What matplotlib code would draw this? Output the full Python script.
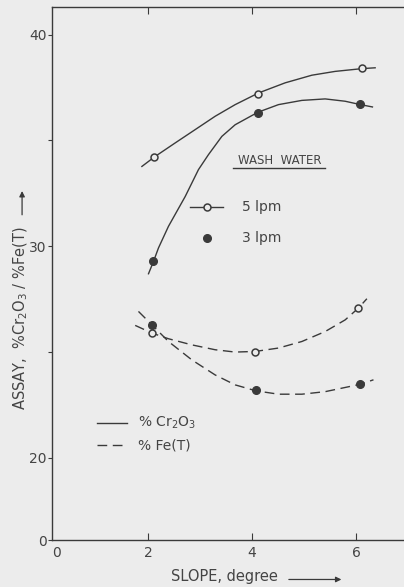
import numpy as np
import matplotlib
matplotlib.use("Agg")
import matplotlib.pyplot as plt

# marker points (slope in degree, assay in %)
slope_pts_5 = [2.12, 4.12, 6.11]
cr_5lpm = [34.2, 37.2, 38.4]
slope_pts_3 = [2.10, 4.11, 6.08]
cr_3lpm = [29.3, 36.3, 36.7]
slope_fe_5 = [2.07, 4.06, 6.04]
fe_5lpm = [25.9, 25.0, 27.1]
slope_fe_3 = [2.08, 4.07, 6.08]
fe_3lpm = [26.3, 23.2, 23.5]

# hand-drawn fitted curves
cr5_x = [1.879, 2.121, 2.519, 2.904, 3.288, 3.673, 4.121, 4.635, 5.148, 5.596, 6.110, 6.365]
cr5_y = [33.77, 34.22, 34.88, 35.51, 36.14, 36.69, 37.24, 37.72, 38.08, 38.26, 38.39, 38.43]
cr3_x = [2.006, 2.102, 2.198, 2.390, 2.712, 2.967, 3.160, 3.417, 3.673, 4.110,
         4.506, 4.956, 5.404, 5.788, 6.083, 6.313]
cr3_y = [28.70, 29.28, 29.92, 30.94, 32.35, 33.62, 34.33, 35.19, 35.74, 36.33,
         36.69, 36.89, 36.96, 36.85, 36.69, 36.58]
fe5_x = [1.750, 2.071, 2.390, 2.840, 3.288, 3.673, 4.058, 4.506, 4.956, 5.404,
         5.788, 6.044, 6.206]
fe5_y = [26.26, 25.90, 25.63, 25.34, 25.11, 25.00, 25.03, 25.19, 25.50, 25.97,
         26.52, 27.08, 27.52]
fe3_x = [1.813, 2.083, 2.390, 2.840, 3.288, 3.673, 4.071, 4.506, 4.956, 5.404,
         6.083, 6.333]
fe3_y = [26.92, 26.26, 25.50, 24.63, 23.92, 23.45, 23.17, 23.01, 23.01, 23.13,
         23.48, 23.69]

y_ticks = [0, 20, 25, 30, 35, 40]
y_ticklabels = ['0', '20', '', '30', '', '40']
x_ticks = [2, 4, 6]

INK = '#3a3a3a'
TXT = '#444444'
BG = '#ececec'

# broken y axis: everything below 20 is squeezed
K = 0.194
def fwd(y):
    y = np.asarray(y, float)
    return np.where(y >= 20, y, 20 - (20 - y) * K)

def inv(t):
    t = np.asarray(t, float)
    return np.where(t >= 20, t, 20 - (20 - t) / K)

plt.rcParams['font.family'] = ['DejaVu Sans']
fig = plt.figure(figsize=(4.04, 5.87), dpi=100, facecolor=BG)
ax = fig.add_axes([0.1287, 0.080, 0.8713, 0.908], facecolor=BG)
ax.set_yscale('function', functions=(fwd, inv))
ax.set_xlim(0.15, 6.92)
ax.set_ylim(0, 41.3)

lw = 1.0
dash = (0, (7, 4))
ax.plot(cr5_x, cr5_y, color=INK, lw=lw)
ax.plot(cr3_x, cr3_y, color=INK, lw=lw)
ax.plot(fe5_x, fe5_y, color=INK, lw=lw, linestyle=dash)
ax.plot(fe3_x, fe3_y, color=INK, lw=lw, linestyle=dash)

open_kw = dict(marker='o', ms=5, mfc=BG, mec=INK, mew=1.1, linestyle='none')
fill_kw = dict(marker='o', ms=5.5, mfc=INK, mec=INK, linestyle='none')
ax.plot(slope_pts_5, cr_5lpm, **open_kw)
ax.plot(slope_pts_3, cr_3lpm, **fill_kw)
ax.plot(slope_fe_5, fe_5lpm, **open_kw)
ax.plot(slope_fe_3, fe_3lpm, **fill_kw)

# spines / ticks
for s in ['left', 'bottom', 'top']:
    ax.spines[s].set_color(INK)
    ax.spines[s].set_linewidth(1.0)
ax.spines['right'].set_visible(False)
ax.set_yticks(y_ticks)
ax.set_yticklabels(y_ticklabels)
ax.yaxis.set_minor_locator(matplotlib.ticker.NullLocator())
ax.tick_params(axis='y', direction='out', length=3, width=0.8, color=INK,
               labelcolor=TXT, labelsize=10, pad=1)
ax.set_xticks(x_ticks)
ax.tick_params(axis='x', direction='in', top=True, length=5, width=0.8, color=INK,
               labelcolor=TXT, labelsize=10, pad=4)
ax.text(0.0, -0.012, '0', transform=ax.transAxes, ha='left', va='top',
        fontsize=10, color=TXT)

# axis labels with arrows
ax.text(0.491, -0.069, 'SLOPE, degree', transform=ax.transAxes, ha='center', va='center',
        fontsize=10.5, color=TXT)
ax.annotate('', xy=(0.83, -0.074), xytext=(0.665, -0.074), xycoords='axes fraction',
            arrowprops=dict(arrowstyle='-|>', color=INK, lw=0.9, mutation_scale=8),
            annotation_clip=False)
ax.text(-0.088, 0.416, r'ASSAY,  %Cr$_2$O$_3$ / %Fe(T)', transform=ax.transAxes,
        rotation=90, ha='center', va='center', fontsize=10.5, color=TXT)
ax.annotate('', xy=(-0.085, 0.66), xytext=(-0.085, 0.605), xycoords='axes fraction',
            arrowprops=dict(arrowstyle='-|>', color=INK, lw=0.9, mutation_scale=8),
            annotation_clip=False)

# wash water key
tr = ax.transAxes
ax.text(0.528, 0.713, 'WASH  WATER', transform=tr, ha='left', va='center',
        fontsize=8.5, color=TXT)
ax.plot([0.514, 0.776], [0.698, 0.698], transform=tr, color=INK, lw=1.0)
ax.plot([0.392, 0.486], [0.625, 0.625], transform=tr, color=INK, lw=lw)
ax.plot([0.440], [0.625], transform=tr, **open_kw)
ax.text(0.540, 0.625, '5 lpm', transform=tr, ha='left', va='center',
        fontsize=10, color=TXT)
ax.plot([0.440], [0.567], transform=tr, **fill_kw)
ax.text(0.540, 0.567, '3 lpm', transform=tr, ha='left', va='center',
        fontsize=10, color=TXT)

# line style key
ax.plot([0.128, 0.213], [0.2195, 0.2195], transform=tr, color=INK, lw=lw)
ax.text(0.244, 0.2195, r'% Cr$_2$O$_3$', transform=tr, ha='left', va='center',
        fontsize=10, color=TXT)
ax.plot([0.128, 0.213], [0.178, 0.178], transform=tr, color=INK, lw=lw, linestyle=dash)
ax.text(0.244, 0.178, '% Fe(T)', transform=tr, ha='left', va='center',
        fontsize=10, color=TXT)

fig.savefig('out.png', dpi=100, facecolor=BG)
